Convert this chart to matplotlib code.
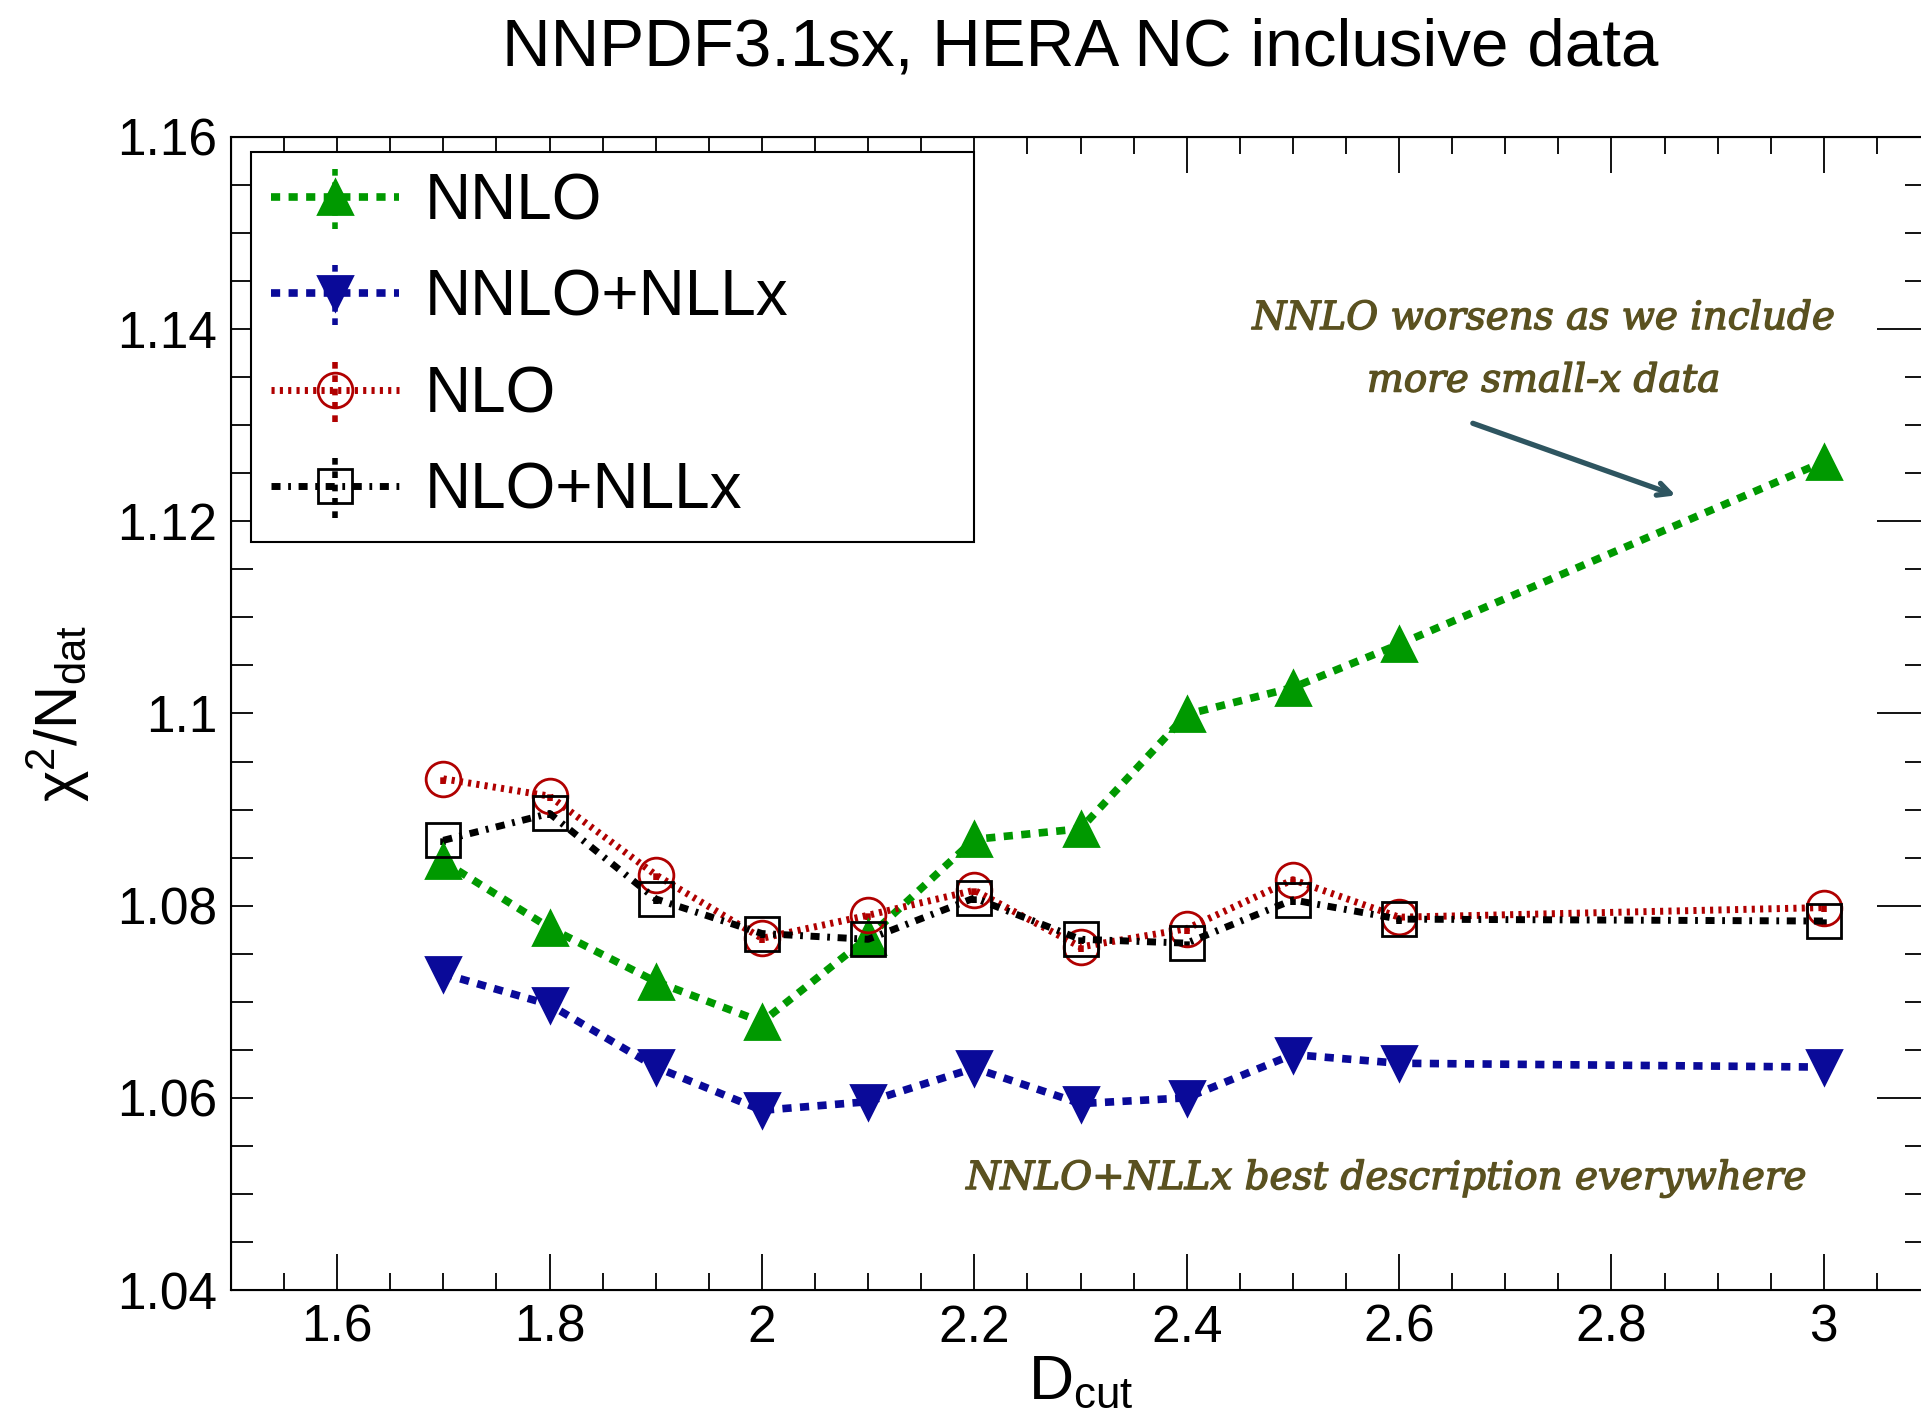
import matplotlib
matplotlib.use("Agg")
import matplotlib.pyplot as plt
import matplotlib.patheffects as pe
from matplotlib.ticker import MultipleLocator

plt.rcParams['font.family'] = ['Liberation Sans', 'DejaVu Sans']
plt.rcParams['mathtext.fontset'] = 'custom'
plt.rcParams['mathtext.rm'] = 'Liberation Sans'
plt.rcParams['mathtext.it'] = 'Liberation Sans:italic'

# D_cut values
dcut = [1.7, 1.8, 1.9, 2.0, 2.1, 2.2, 2.3, 2.4, 2.5, 2.6, 3.0]

# chi2/Ndat
nnlo = [1.0846, 1.0777, 1.0721, 1.0679, 1.0767, 1.0869, 1.0880, 1.0999, 1.1027, 1.1072, 1.1262]
nnlo_nllx = [1.0729, 1.0697, 1.0632, 1.0587, 1.0596, 1.0631, 1.0594, 1.0600, 1.0645, 1.0636, 1.0632]
nlo = [1.0932, 1.0914, 1.0832, 1.0766, 1.0790, 1.0816, 1.0757, 1.0776, 1.0827, 1.0788, 1.0798]
nlo_nllx = [1.0868, 1.0896, 1.0807, 1.0771, 1.0765, 1.0808, 1.0765, 1.0761, 1.0806, 1.0786, 1.0784]
# tiny error bars (hidden inside the markers)
errs = [0.0005, 0.0005, 0.0005, 0.0005, 0.0005, 0.0005, 0.0005, 0.0005, 0.0005, 0.0005, 0.0005]

labels = ["NNLO", "NNLO+NLLx", "NLO", "NLO+NLLx"]

fig = plt.figure(figsize=(19.21, 14.26), dpi=100)
ax = fig.add_axes([231 / 1921, 1 - 1290 / 1426, (1930 - 231) / 1921, (1290 - 137) / 1426])

green = "#009900"
blue = "#0a0a99"
red = "#b00000"

def draw(y, color, ls, lw, marker, mfc, label):
    eb = ax.errorbar(dcut, y, yerr=errs, color=color, ls=ls, lw=lw,
                     marker=marker, ms=25, mfc=mfc, mec=color, mew=2,
                     elinewidth=4, capsize=0, label=label)
    eb[2][0].set_linestyle((0, (1.2, 1.2)))
    return eb

handles = [
    draw(nnlo, green, (0, (1.2, 1.1)), 5.5, "^", green, labels[0]),
    draw(nnlo_nllx, blue, (0, (1.2, 1.1)), 5.5, "v", blue, labels[1]),
    draw(nlo, red, (0, (0.45, 0.75)), 5.0, "o", "none", labels[2]),
    draw(nlo_nllx, "black", (0, (1.3, 1.1, 0.4, 1.1)), 5.0, "s", "none", labels[3]),
]

ax.set_xlim(1.5, 3.1)
ax.set_ylim(1.04, 1.16)
ax.xaxis.set_major_locator(MultipleLocator(0.2))
ax.xaxis.set_minor_locator(MultipleLocator(0.05))
ax.yaxis.set_major_locator(MultipleLocator(0.02))
ax.yaxis.set_minor_locator(MultipleLocator(0.005))
ax.set_xticks([1.6, 1.8, 2.0, 2.2, 2.4, 2.6, 2.8, 3.0])
ax.set_xticklabels(["1.6", "1.8", "2", "2.2", "2.4", "2.6", "2.8", "3"])
ax.set_yticks([1.04, 1.06, 1.08, 1.1, 1.12, 1.14, 1.16])
ax.set_yticklabels(["1.04", "1.06", "1.08", "1.1", "1.12", "1.14", "1.16"])

ax.tick_params(axis='x', which='both', direction='in', top=True, bottom=True,
               width=1.3, labelsize=37, pad=10)
ax.tick_params(axis='x', which='major', length=26)
ax.tick_params(axis='x', which='minor', length=12)
ax.tick_params(axis='y', which='both', direction='in', left=True, right=False,
               width=1.3, length=16, labelsize=37, pad=10)
for s in ax.spines.values():
    s.set_linewidth(1.5)

# right-hand ticks with their own lengths
ax2 = ax.twinx()
ax2.set_ylim(1.04, 1.16)
ax2.yaxis.set_major_locator(MultipleLocator(0.02))
ax2.yaxis.set_minor_locator(MultipleLocator(0.005))
ax2.tick_params(axis='y', which='both', direction='in', width=1.3, labelright=False)
ax2.tick_params(axis='y', which='major', length=38)
ax2.tick_params(axis='y', which='minor', length=18)

ax.set_xlabel("D$_{\\rm cut}$", fontsize=45, labelpad=0)
ax.set_ylabel("χ$^2$/N$_{\\rm dat}$", fontsize=43, labelpad=18)

# legend on the top axes so nothing is drawn over it
leg = ax2.legend(handles, labels, loc="upper left",
                 bbox_to_anchor=(0.0118, 0.625, 0.4255, 0.362),
                 mode="expand", borderaxespad=0,
                 fontsize=46, frameon=True, fancybox=False, edgecolor="black",
                 handlelength=2.0, handletextpad=0.4, labelspacing=0.57,
                 borderpad=0.32, framealpha=1)
leg.get_frame().set_linewidth(1.5)

olive = "#5a5120"
stroke = [pe.withStroke(linewidth=1.0, foreground=olive)]
for txt, x, y in [("NNLO worsens as we include", 2.736, 1.1411),
                  ("more small-x data", 2.736, 1.1346),
                  ("NNLO+NLLx best description everywhere", 2.588, 1.0516)]:
    ax.text(x, y, txt, ha="center", va="center", fontsize=28, style="italic",
            family="DejaVu Serif", color=olive, path_effects=stroke)
ax.annotate("", xy=(2.863, 1.1226), xytext=(2.667, 1.1303),
            arrowprops=dict(arrowstyle="->,head_length=0.9,head_width=0.45",
                            color="#2e5560", lw=3.8))

fig.text(1080 / 1921, 1 - 48 / 1426, "NNPDF3.1sx, HERA NC inclusive data",
         ha="center", va="center", fontsize=48.5)

fig.savefig("out.png", dpi=100)
